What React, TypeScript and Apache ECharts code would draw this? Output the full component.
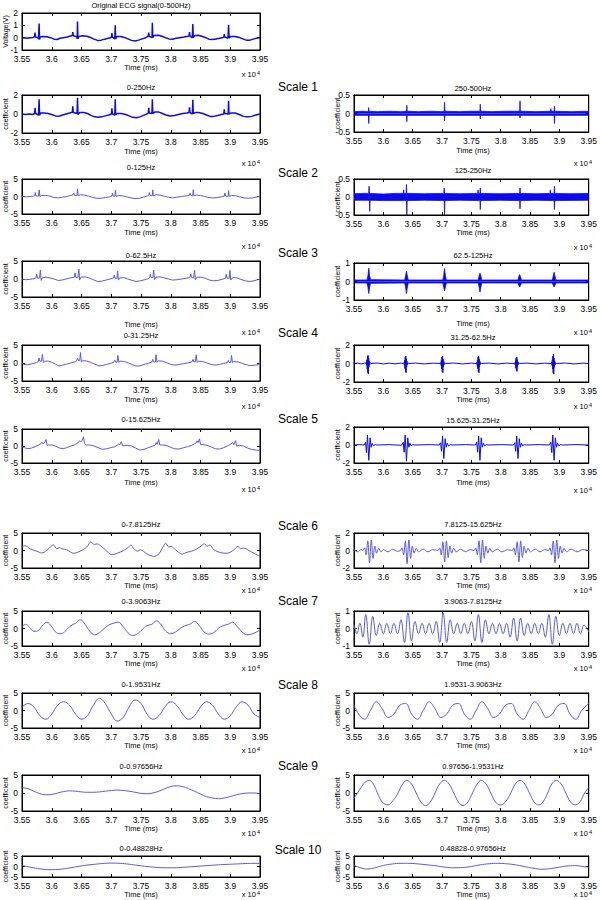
import React, { useEffect, useRef } from "react";
import * as echarts from "echarts";

type P = [number, number][];

// ---------- DATA (time in ms, value) ----------
const originalECG: P = [[35500,-0.05],[35540,0],[35590,-0.05],[35640,0],[35690,0.02],[35712,0.1],[35719,0.42],[35727,0.05],[35770,0],[35778,-0.12],[35787,1.15],[35795,-0.15],[35805,0.05],[35850,0.1],[35920,0.08],[35980,0],[36040,-0.12],[36090,-0.15],[36140,-0.05],[36200,0],[36260,0.05],[36330,0.15],[36347,0.2],[36354,0.45],[36362,0.15],[36420,0.08],[36427,-0.1],[36433,1.3],[36440,-0.08],[36455,0.1],[36520,0.15],[36590,0.12],[36650,0.02],[36710,-0.12],[36770,-0.22],[36830,-0.2],[36890,-0.12],[36950,-0.05],[36990,0],[37004,0.05],[37011,0.38],[37019,0.05],[37060,-0.1],[37067,1.0],[37074,-0.1],[37095,0.1],[37160,0.1],[37220,0.02],[37280,-0.1],[37340,-0.22],[37400,-0.27],[37460,-0.2],[37520,-0.1],[37580,0],[37622,0.12],[37630,0.42],[37638,0.1],[37685,0],[37691,1.2],[37698,0],[37720,0.18],[37790,0.2],[37850,0.12],[37910,0],[37970,-0.1],[38030,-0.12],[38090,-0.05],[38150,0],[38220,0.05],[38290,0.12],[38308,0.15],[38315,0.45],[38323,0.12],[38362,0],[38371,1.1],[38378,0],[38400,0.15],[38460,0.2],[38520,0.12],[38580,0.02],[38640,-0.12],[38700,-0.15],[38760,-0.1],[38820,-0.05],[38880,0.02],[38892,0.05],[38899,0.28],[38907,0.05],[38962,-0.05],[38972,1.05],[38980,-0.02],[39010,0.1],[39080,0.1],[39150,0.02],[39210,-0.1],[39270,-0.2],[39330,-0.2],[39400,-0.1],[39460,-0.02],[39500,0]];

const a1: P = [[35500,0],[35560,-0.05],[35620,0],[35680,-0.05],[35712,0.05],[35719,0.65],[35727,0.05],[35778,-0.1],[35787,1.55],[35795,-0.15],[35810,0.1],[35870,0.1],[35940,0.05],[36000,-0.05],[36060,-0.2],[36120,-0.25],[36180,-0.1],[36240,0],[36300,0.1],[36346,0.2],[36354,0.8],[36362,0.15],[36426,0.05],[36433,1.7],[36440,-0.05],[36470,0.15],[36540,0.15],[36600,0.05],[36660,-0.15],[36720,-0.3],[36780,-0.35],[36840,-0.3],[36900,-0.2],[36960,-0.1],[37003,0],[37011,0.6],[37019,0],[37060,-0.1],[37067,1.55],[37074,-0.1],[37100,0.05],[37170,0.05],[37240,-0.05],[37300,-0.2],[37360,-0.35],[37420,-0.4],[37480,-0.3],[37540,-0.15],[37600,0],[37622,0.1],[37630,0.65],[37638,0.1],[37684,0.05],[37691,1.55],[37698,0.05],[37730,0.2],[37800,0.2],[37860,0.05],[37920,-0.1],[37990,-0.2],[38060,-0.15],[38130,-0.05],[38200,0.05],[38270,0.1],[38307,0.15],[38315,0.7],[38323,0.15],[38364,0],[38371,1.5],[38378,0.05],[38410,0.15],[38470,0.15],[38540,0.05],[38600,-0.1],[38660,-0.25],[38720,-0.25],[38790,-0.15],[38850,-0.05],[38891,0],[38899,0.5],[38907,0.05],[38965,0],[38972,1.4],[38979,0],[39010,0.1],[39080,0.1],[39150,-0.05],[39220,-0.25],[39290,-0.3],[39360,-0.25],[39430,-0.1],[39500,0]];

const a2: P = [[35500,0],[35560,-0.1],[35630,0],[35690,0.1],[35713,0.2],[35722,1.1],[35732,0.2],[35775,0.1],[35790,1.9],[35800,0],[35830,0.3],[35900,0.3],[35970,0.1],[36040,-0.3],[36110,-0.4],[36180,-0.2],[36250,0],[36320,0.3],[36350,0.4],[36370,1.0],[36385,0.3],[36425,0.3],[36433,2.1],[36445,0.2],[36480,0.5],[36550,0.4],[36620,0.1],[36690,-0.3],[36760,-0.5],[36830,-0.5],[36900,-0.3],[36970,-0.1],[37010,0.1],[37020,1.0],[37032,0.1],[37060,0],[37070,1.8],[37082,0],[37120,0.3],[37190,0.2],[37260,-0.1],[37330,-0.4],[37400,-0.6],[37470,-0.5],[37540,-0.2],[37600,0.1],[37630,0.3],[37640,1.1],[37652,0.3],[37690,0.2],[37697,1.9],[37708,0.2],[37750,0.5],[37820,0.4],[37890,0.1],[37960,-0.2],[38030,-0.4],[38100,-0.2],[38180,0],[38260,0.2],[38310,0.3],[38325,1.0],[38337,0.3],[38370,0.2],[38378,1.9],[38390,0.2],[38430,0.4],[38500,0.3],[38570,0],[38640,-0.3],[38710,-0.4],[38780,-0.3],[38850,-0.1],[38900,0.1],[38910,1.0],[38922,0.1],[38965,0],[38972,1.7],[38984,0],[39020,0.3],[39090,0.2],[39160,-0.1],[39230,-0.4],[39300,-0.5],[39380,-0.4],[39450,-0.1],[39500,0]];

const a3: P = [[35500,0],[35560,-0.2],[35630,-0.1],[35700,0.1],[35735,0.3],[35747,1.4],[35760,0.2],[35795,0.3],[35809,2.5],[35822,-0.4],[35840,0.3],[35900,0.5],[35970,0.3],[36040,0],[36110,-0.4],[36170,-0.3],[36240,0],[36310,0.3],[36380,0.5],[36393,1.7],[36405,0.4],[36440,0.4],[36455,2.8],[36468,-0.3],[36490,0.5],[36560,0.6],[36630,0.3],[36700,-0.2],[36770,-0.7],[36840,-0.6],[36910,-0.3],[36980,0],[37038,0.3],[37051,1.1],[37063,0.2],[37095,0.2],[37107,2.2],[37120,-0.3],[37140,0.3],[37210,0.4],[37280,0],[37350,-0.4],[37420,-0.7],[37490,-0.5],[37560,-0.2],[37620,0.1],[37645,0.3],[37657,1.3],[37670,0.4],[37700,0.4],[37713,2.5],[37726,-0.2],[37750,0.5],[37820,0.6],[37890,0.3],[37960,0],[38030,-0.3],[38100,-0.2],[38180,0],[38260,0.2],[38320,0.4],[38337,1.4],[38350,0.4],[38385,0.3],[38400,2.5],[38413,-0.2],[38440,0.5],[38510,0.5],[38580,0.2],[38650,-0.3],[38720,-0.5],[38790,-0.4],[38860,-0.1],[38920,0.2],[38933,1.3],[38945,0.2],[38982,0.2],[38995,2.4],[39008,-0.3],[39040,0.4],[39110,0.3],[39180,-0.1],[39250,-0.5],[39320,-0.7],[39400,-0.5],[39460,-0.2],[39500,0]];

const a4: P = [[35500,0],[35530,-0.4],[35600,-0.5],[35670,-0.2],[35740,0.1],[35775,0.4],[35787,1.4],[35800,0.5],[35830,0.5],[35843,2.4],[35858,0.2],[35880,0.5],[35940,0.5],[36000,0.2],[36060,-0.3],[36120,-0.8],[36180,-0.6],[36250,-0.3],[36320,0],[36400,0.4],[36420,0.6],[36433,1.4],[36447,0.7],[36470,0.7],[36483,2.9],[36497,0.3],[36520,0.6],[36580,0.6],[36650,0.2],[36720,-0.3],[36790,-0.8],[36850,-0.7],[36920,-0.4],[36990,-0.1],[37040,0.2],[37062,0.75],[37075,0.2],[37098,0.2],[37112,2.1],[37127,0.2],[37150,0.5],[37220,0.4],[37290,0],[37360,-0.5],[37430,-0.9],[37500,-0.7],[37570,-0.3],[37640,0],[37685,0.3],[37697,1.0],[37710,0.3],[37740,0.3],[37753,2.3],[37768,0.2],[37790,0.6],[37860,0.5],[37930,0.1],[38000,-0.4],[38070,-0.6],[38140,-0.4],[38210,-0.2],[38280,0],[38350,0.2],[38376,1.0],[38390,0.3],[38413,0.3],[38427,2.3],[38442,0.2],[38470,0.5],[38540,0.4],[38610,0],[38680,-0.4],[38750,-0.6],[38820,-0.4],[38890,-0.1],[38955,0.1],[38966,0.7],[38980,0.1],[39008,0.1],[39022,2.1],[39037,0.1],[39060,0.4],[39130,0.3],[39200,-0.1],[39270,-0.5],[39340,-0.7],[39420,-0.6],[39470,-0.5],[39500,0]];

const a5: P = [[35500,-0.2],[35540,-0.5],[35600,-0.8],[35660,-0.6],[35720,-0.2],[35780,0.3],[35820,0.7],[35831,1.1],[35860,0.6],[35885,1.2],[35904,1.9],[35920,0.2],[35950,0.3],[36010,0.3],[36070,-0.1],[36130,-0.6],[36190,-0.8],[36250,-0.5],[36310,-0.1],[36380,0.3],[36440,0.9],[36466,1.5],[36490,1.2],[36515,1.8],[36534,2.7],[36550,0.7],[36580,0.3],[36640,0.3],[36710,0],[36780,-0.5],[36850,-1.0],[36920,-0.8],[36990,-0.5],[37060,-0.2],[37100,0.2],[37124,0.6],[37140,0.3],[37169,1.3],[37190,0],[37220,0.1],[37280,0.2],[37340,0],[37410,-0.6],[37480,-1.2],[37550,-1.0],[37620,-0.5],[37690,-0.1],[37740,0.3],[37753,1.0],[37770,0.5],[37798,1.9],[37815,0.3],[37850,0.3],[37920,0.2],[37990,-0.3],[38060,-0.8],[38130,-0.9],[38200,-0.6],[38280,-0.2],[38350,0.2],[38420,0.8],[38444,1.5],[38460,1.0],[38483,2.1],[38500,0.4],[38540,0.4],[38610,0.2],[38680,-0.3],[38750,-0.8],[38820,-0.9],[38890,-0.5],[38950,0],[38990,0.4],[39045,1.0],[39060,0.4],[39090,1.6],[39105,0],[39150,0.2],[39220,0],[39290,-0.6],[39360,-1.0],[39430,-1.2],[39480,-1.3],[39500,-0.9]];

const a6: P = [[35500,1.0],[35551,1.4],[35635,0.5],[35747,-0.2],[35831,-0.7],[35916,0],[36000,1.4],[36028,1.6],[36084,0.5],[36129,0.8],[36169,0.5],[36253,0.2],[36365,-0.8],[36478,-0.2],[36590,1.0],[36657,2.5],[36713,1.7],[36758,1.9],[36815,1.4],[36899,0.2],[37011,-1.2],[37096,-0.8],[37208,0],[37292,1.0],[37331,1.6],[37376,0.5],[37444,-0.2],[37489,0.2],[37601,-1.0],[37713,-1.7],[37798,-1.0],[37882,1.4],[37916,2.1],[37966,1.0],[38006,1.2],[38079,0.2],[38191,-1.0],[38275,-0.5],[38388,0],[38489,1.0],[38567,1.9],[38612,1.2],[38657,1.6],[38725,0.2],[38837,-0.6],[38949,-0.8],[39062,0.2],[39129,1.2],[39174,0.5],[39219,0.7],[39315,0],[39399,-0.8],[39500,-1.7]];

const a7: P = [[35500,0.5],[35560,1.2],[35620,0.5],[35700,-0.8],[35780,-0.5],[35850,1.0],[35920,1.8],[36000,0.5],[36080,-1.2],[36160,-1.5],[36240,-0.5],[36320,0.8],[36400,1.5],[36480,2.5],[36560,1.2],[36640,-0.8],[36720,-1.8],[36800,-1.2],[36880,0],[36960,1],[37040,1.5],[37120,1.8],[37200,0.5],[37280,-1.2],[37360,-2],[37440,-1.5],[37520,-0.3],[37600,0.8],[37680,1.2],[37760,2.2],[37840,1],[37920,-0.8],[38000,-1.5],[38080,-1],[38160,0],[38240,0.8],[38320,1.2],[38400,2],[38480,0.8],[38560,-1],[38640,-1.6],[38720,-1.2],[38800,0],[38880,0.8],[38960,1.2],[39040,1.8],[39120,0.5],[39200,-1],[39280,-1.8],[39360,-1.6],[39440,-1],[39500,-0.5]];

const a8: P = [[35500,1],[35600,2],[35700,1],[35800,-1.5],[35900,-2.5],[36000,-1],[36100,1.5],[36200,2.5],[36300,1.5],[36400,-1],[36500,-2.5],[36600,-1.5],[36700,1.5],[36800,3.5],[36900,2],[37000,-1],[37100,-3],[37200,-2],[37300,1],[37400,3],[37500,2],[37600,-1],[37700,-2.5],[37800,-1.5],[37900,1],[38000,2.5],[38100,1.5],[38200,-1],[38300,-2.5],[38400,-1.5],[38500,1],[38600,2.5],[38700,1.5],[38800,-1],[38900,-2.5],[39000,-1.5],[39100,1],[39200,2.5],[39300,1.5],[39400,-1],[39500,-2]];

const a9: P = [[35500,1.5],[35600,1.2],[35700,0.5],[35800,-0.2],[35900,-0.5],[36000,-0.4],[36100,0],[36200,0.4],[36300,0.6],[36400,0.5],[36500,0.3],[36600,0.2],[36700,0.2],[36800,0.3],[36900,0.5],[37000,0.7],[37100,0.8],[37200,0.7],[37300,0.5],[37400,0.2],[37500,-0.1],[37600,-0.2],[37700,0],[37800,0.5],[37900,1.2],[38000,1.8],[38100,2.0],[38200,1.8],[38300,1.2],[38400,0.5],[38500,-0.3],[38600,-1.0],[38700,-1.4],[38800,-1.6],[38900,-1.4],[39000,-1.0],[39100,-0.5],[39200,-0.2],[39300,0],[39400,0],[39500,-0.2]];

const a10: P = [[35500,0.5],[35650,-0.4],[35800,-1.1],[35950,-1.5],[36100,-1.4],[36250,-0.9],[36400,-0.2],[36550,0.5],[36700,1.0],[36850,1.4],[37000,1.6],[37150,1.5],[37300,1.1],[37450,0.5],[37600,0],[37750,-0.4],[37900,-0.6],[38050,-0.6],[38200,-0.4],[38350,-0.1],[38500,0.2],[38650,0.5],[38800,0.8],[38950,1.0],[39100,1.2],[39250,1.4],[39400,1.5],[39500,1.5]];

// right column (detail bands)
const d1Upper: P = [[35500,0.05],[35650,0.06],[35744,0.05],[35750,0.16],[35756,0.06],[35900,0.05],[36100,0.06],[36300,0.05],[36394,0.06],[36400,0.22],[36406,0.06],[36600,0.05],[36800,0.06],[37000,0.05],[37037,0.06],[37043,0.3],[37049,0.06],[37300,0.05],[37500,0.06],[37646,0.06],[37652,0.25],[37658,0.06],[37850,0.05],[38100,0.06],[38323,0.06],[38329,0.34],[38335,0.06],[38600,0.05],[38849,0.06],[38855,0.13],[38861,0.06],[38910,0.06],[38916,0.2],[38922,0.06],[39200,0.05],[39500,0.06]];
const d1Lower: P = [[35500,-0.05],[35746,-0.05],[35752,-0.27],[35758,-0.05],[36394,-0.05],[36400,-0.22],[36406,-0.05],[37037,-0.05],[37043,-0.2],[37049,-0.05],[37646,-0.05],[37652,-0.15],[37658,-0.05],[38323,-0.05],[38329,-0.12],[38335,-0.05],[38910,-0.05],[38916,-0.27],[38922,-0.05],[39500,-0.05]];

const d2Upper: P = [[35500,0.09],[35650,0.1],[35751,0.1],[35757,0.3],[35763,0.1],[36000,0.08],[36200,0.1],[36340,0.1],[36346,0.2],[36352,0.1],[36388,0.1],[36394,0.35],[36400,0.1],[36700,0.09],[37031,0.1],[37037,0.25],[37043,0.1],[37300,0.09],[37608,0.1],[37614,0.2],[37620,0.1],[37646,0.1],[37652,0.25],[37658,0.1],[38000,0.09],[38323,0.1],[38329,0.25],[38335,0.1],[38600,0.09],[38840,0.1],[38846,0.2],[38852,0.1],[38910,0.1],[38916,0.3],[38922,0.1],[39200,0.09],[39500,0.1]];
const d2Lower: P = [[35500,-0.09],[35762,-0.09],[35768,-0.4],[35774,-0.09],[36000,-0.1],[36394,-0.1],[36400,-0.5],[36406,-0.1],[36700,-0.09],[37037,-0.1],[37043,-0.5],[37049,-0.1],[37300,-0.09],[37646,-0.1],[37652,-0.35],[37658,-0.1],[38000,-0.09],[38323,-0.1],[38329,-0.33],[38335,-0.1],[38600,-0.09],[38910,-0.1],[38916,-0.35],[38922,-0.1],[39500,-0.09]];

const d3Upper: P = [[35500,0.08],[35722,0.08],[35737,0.3],[35752,0.72],[35767,0.3],[35782,0.1],[36364,0.08],[36379,0.3],[36394,0.55],[36409,0.3],[36424,0.08],[37013,0.08],[37028,0.3],[37043,0.7],[37058,0.3],[37073,0.08],[37617,0.08],[37632,0.3],[37647,0.45],[37662,0.3],[37677,0.08],[38293,0.08],[38308,0.25],[38323,0.38],[38338,0.25],[38353,0.08],[38880,0.08],[38895,0.3],[38910,0.5],[38925,0.3],[38940,0.08],[39500,0.08]];
const d3Lower: P = [[35500,-0.08],[35722,-0.08],[35737,-0.3],[35752,-0.65],[35767,-0.3],[35782,-0.1],[36364,-0.08],[36379,-0.3],[36394,-0.65],[36409,-0.3],[36424,-0.08],[37013,-0.08],[37028,-0.3],[37043,-0.5],[37058,-0.3],[37073,-0.08],[37617,-0.08],[37632,-0.3],[37647,-0.57],[37662,-0.3],[37677,-0.08],[38293,-0.08],[38308,-0.2],[38323,-0.3],[38338,-0.2],[38353,-0.08],[38880,-0.08],[38895,-0.2],[38910,-0.3],[38925,-0.2],[38940,-0.08],[39500,-0.08]];

const d4: P = [[35500,0],[35560,0.05],[35620,-0.05],[35680,0.04],[35700,0],[35710,0.15],[35715,-0.2],[35720,0.4],[35725,-0.6],[35730,0.8],[35735,-1.0],[35740,0.9],[35745,-1.15],[35750,0.6],[35755,-0.4],[35760,0.3],[35767,-0.15],[35775,0.1],[35790,0],[35900,0.05],[36000,-0.05],[36100,0.04],[36200,-0.04],[36300,0.05],[36343,0],[36353,0.12],[36358,-0.2],[36363,0.35],[36368,-0.55],[36373,0.7],[36378,-0.9],[36383,0.8],[36388,-1.0],[36393,0.5],[36398,-0.35],[36403,0.25],[36410,-0.12],[36418,0.08],[36433,0],[36550,0.05],[36700,-0.05],[36850,0.04],[36969,0],[36979,0.12],[36984,-0.2],[36989,0.35],[36994,-0.55],[36999,0.7],[37004,-0.9],[37009,0.8],[37014,-1.0],[37019,0.5],[37024,-0.35],[37029,0.25],[37036,-0.12],[37044,0.08],[37059,0],[37200,0.05],[37350,-0.05],[37500,0.04],[37584,0],[37594,0.12],[37599,-0.2],[37604,0.35],[37609,-0.55],[37614,0.7],[37619,-0.9],[37624,0.8],[37629,-1.0],[37634,0.5],[37639,-0.35],[37644,0.25],[37651,-0.12],[37659,0.08],[37674,0],[37800,0.05],[37950,-0.05],[38100,0.04],[38233,0],[38243,0.1],[38248,-0.18],[38253,0.3],[38258,-0.5],[38263,0.6],[38268,-0.8],[38273,0.7],[38278,-0.85],[38283,0.45],[38288,-0.3],[38293,0.2],[38300,-0.1],[38308,0.06],[38323,0],[38450,0.05],[38600,-0.05],[38750,0.04],[38859,0],[38869,0.15],[38874,-0.2],[38879,0.4],[38884,-0.6],[38889,0.8],[38894,-1.0],[38899,1.0],[38904,-1.15],[38909,0.6],[38914,-0.4],[38919,0.3],[38926,-0.15],[38934,0.1],[38949,0],[39100,0.05],[39250,-0.05],[39400,0.04],[39500,0]];

const d5: P = [[35500,0],[35600,0.05],[35672,0],[35697,0.3],[35712,-0.85],[35730,1.1],[35752,-1.7],[35774,0.8],[35792,-0.25],[35810,0.2],[35832,-0.1],[35862,0.05],[35892,0],[36100,0.04],[36300,-0.03],[36314,0],[36339,0.3],[36354,-0.8],[36372,1.1],[36394,-1.8],[36416,0.8],[36434,-0.25],[36452,0.2],[36474,-0.1],[36504,0.05],[36534,0],[36800,0.04],[36951,0],[36976,0.25],[36991,-0.7],[37009,1.0],[37031,-1.5],[37053,0.7],[37071,-0.25],[37089,0.2],[37111,-0.1],[37141,0.05],[37171,0],[37400,0.04],[37566,0],[37591,0.3],[37606,-0.8],[37624,1.0],[37646,-1.7],[37668,0.8],[37686,-0.25],[37704,0.2],[37726,-0.1],[37756,0.05],[37786,0],[38000,0.04],[38215,0],[38240,0.25],[38255,-0.7],[38273,1.0],[38295,-1.5],[38317,0.7],[38335,-0.25],[38353,0.2],[38375,-0.1],[38405,0.05],[38435,0],[38650,0.04],[38830,0],[38855,0.3],[38870,-0.85],[38888,1.1],[38910,-1.7],[38932,0.8],[38950,-0.25],[38968,0.2],[38990,-0.1],[39020,0.05],[39050,0],[39300,0.04],[39500,0]];

const d6: P = [[35500,0.1],[35560,-0.15],[35620,0.1],[35650,0],[35680,0.3],[35705,-0.5],[35735,1.1],[35765,-1.4],[35795,1.2],[35825,-0.9],[35855,0.5],[35885,-0.3],[35920,0.25],[35960,-0.15],[36000,0.1],[36080,-0.15],[36160,0.15],[36240,-0.1],[36290,0],[36320,0.3],[36345,-0.5],[36375,1.1],[36405,-1.5],[36435,1.2],[36465,-0.9],[36495,0.5],[36525,-0.3],[36560,0.25],[36600,-0.15],[36680,0.15],[36760,-0.15],[36840,0.1],[36930,0],[36960,0.3],[36985,-0.5],[37015,1.0],[37045,-1.3],[37075,1.1],[37105,-0.8],[37135,0.5],[37165,-0.3],[37200,0.25],[37240,-0.15],[37320,0.15],[37400,-0.15],[37480,0.1],[37545,0],[37575,0.3],[37600,-0.5],[37630,1.1],[37660,-1.4],[37690,1.2],[37720,-0.9],[37750,0.5],[37780,-0.3],[37815,0.25],[37855,-0.15],[37940,0.15],[38020,-0.15],[38120,0.1],[38195,0],[38225,0.3],[38250,-0.5],[38280,1.0],[38310,-1.3],[38340,1.1],[38370,-0.8],[38400,0.5],[38430,-0.3],[38465,0.25],[38505,-0.15],[38590,0.15],[38670,-0.15],[38750,0.1],[38810,0],[38840,0.3],[38865,-0.5],[38895,1.1],[38925,-1.4],[38955,1.2],[38985,-0.9],[39015,0.5],[39045,-0.3],[39080,0.25],[39120,-0.15],[39200,0.15],[39300,-0.15],[39400,0.1],[39500,0]];

const d7: P = [[35500,0.2],[35550,-0.3],[35600,0.3],[35650,-0.5],[35700,0.8],[35760,-0.9],[35820,0.7],[35880,-0.4],[35940,0.3],[36000,-0.3],[36060,0.3],[36120,-0.3],[36180,0.3],[36240,-0.3],[36300,0.5],[36360,-0.8],[36420,0.9],[36480,-0.7],[36540,0.4],[36600,-0.3],[36660,0.3],[36720,-0.3],[36780,0.3],[36840,-0.3],[36900,0.4],[36960,-0.8],[37020,0.9],[37080,-0.8],[37140,0.5],[37200,-0.3],[37260,0.3],[37320,-0.3],[37380,0.3],[37440,-0.3],[37500,0.4],[37560,-0.7],[37620,0.8],[37680,-0.8],[37740,0.5],[37800,-0.3],[37860,0.3],[37920,-0.3],[37980,0.3],[38040,-0.3],[38100,0.3],[38160,-0.5],[38220,0.6],[38280,-0.7],[38340,0.6],[38400,-0.4],[38460,0.3],[38520,-0.3],[38580,0.3],[38640,-0.3],[38700,0.3],[38760,-0.5],[38820,0.8],[38880,-0.9],[38940,0.7],[39000,-0.4],[39060,0.3],[39120,-0.3],[39180,0.3],[39240,-0.3],[39300,0.3],[39360,-0.3],[39420,0.2],[39500,-0.2]];

const d8: P = [[35500,1.5],[35580,-1],[35680,-2.5],[35780,0],[35880,2.5],[35980,0.5],[36080,-2],[36180,-1],[36280,1.5],[36380,2],[36480,-1],[36580,-2.5],[36680,0],[36780,2.5],[36880,0.5],[36980,-2],[37080,-1],[37180,1.5],[37280,2],[37380,-1],[37480,-2.5],[37580,0],[37680,2.5],[37780,0.5],[37880,-2],[37980,-1],[38080,1.5],[38180,2],[38280,-1],[38380,-2.5],[38480,0],[38580,2.5],[38680,0.5],[38780,-2],[38880,-1],[38980,1.5],[39080,2],[39180,-1],[39280,-2.5],[39380,0],[39500,2]];

const d9: P = [[35500,-1.5],[35560,0],[35620,1.5],[35690,3],[35760,3.5],[35830,2.5],[35900,0],[35980,-2.5],[36080,-3.3],[36170,-2],[36250,0],[36330,2.5],[36400,3.5],[36480,2.5],[36560,0],[36640,-2.5],[36720,-3.5],[36800,-2.5],[36880,0],[36960,2.5],[37040,3.5],[37120,2.5],[37200,0],[37280,-2.5],[37360,-3.5],[37440,-2.5],[37520,0],[37600,2.5],[37670,3.5],[37750,2.5],[37830,0],[37910,-2.5],[37990,-3.3],[38080,-2.5],[38170,0],[38250,2.5],[38330,3.5],[38410,2.5],[38490,0],[38570,-2.5],[38650,-3.3],[38720,-2.5],[38800,0],[38870,2.5],[38950,3.5],[39030,2.5],[39110,0],[39190,-2.5],[39270,-3.3],[39350,-2.5],[39430,0],[39500,1.5]];

const d10: P = [[35500,0.5],[35600,-0.5],[35700,-1.2],[35800,-1.0],[35900,-0.3],[36000,0.5],[36150,1.2],[36300,1.5],[36450,1.5],[36600,1.2],[36750,0.8],[36900,0.3],[37050,-0.3],[37200,-0.6],[37350,-0.5],[37500,0],[37650,0.8],[37800,1.3],[37950,1.5],[38100,1.3],[38250,0.8],[38400,0],[38550,-0.8],[38700,-1.3],[38850,-1.0],[39000,-0.3],[39150,0.3],[39300,0.4],[39400,0],[39500,-0.3]];

// x-axis tick values (ms); labels shown in units of 10^4 ms
const xMin = 35500, xMax = 39500, xStep = 500;

// ---------- LAYOUT ----------
type Lay = { top: number; bottom: number; titleY: number; timeY: number; expY: number };
const LX = 22, RX = 354, PW = 238;

const FONT = "'Liberation Sans Narrow', 'Liberation Sans', Arial, sans-serif";
const BLUE = "#0a0aee";
const LBLUE = "#5858e8";

interface Panel {
  title: string;
  col: 0 | 1;
  lay: Lay;
  y: [number, number, number];
  yName: string;
  line?: P;
  width?: number;
  color?: string;
  smooth?: number;
  band?: [P, P];
}

const panels: Panel[] = [
  { title: "Original ECG signal(0-500Hz)", col: 0, lay: { top: 13, bottom: 50, titleY: 5, timeY: 67, expY: 74 }, y: [-1, 2, 1], yName: "Voltage(V)", line: originalECG, width: 1.5, color: BLUE },
  { title: "0-250Hz", col: 0, lay: { top: 95, bottom: 133, titleY: 87, timeY: 151, expY: 163 }, y: [-2, 2, 2], yName: "coefficient", line: a1, width: 1.5, color: BLUE },
  { title: "250-500Hz", col: 1, lay: { top: 95, bottom: 132, titleY: 88, timeY: 150, expY: 163 }, y: [-0.5, 0.5, 0.5], yName: "coefficient", band: [d1Upper, d1Lower] },
  { title: "0-125Hz", col: 0, lay: { top: 179, bottom: 214, titleY: 167, timeY: 232, expY: 246 }, y: [-5, 5, 5], yName: "coefficient", line: a2, width: 1, color: LBLUE },
  { title: "125-250Hz", col: 1, lay: { top: 179, bottom: 215, titleY: 170, timeY: 232, expY: 247 }, y: [-0.5, 0.5, 0.5], yName: "coefficient", band: [d2Upper, d2Lower] },
  { title: "0-62.5Hz", col: 0, lay: { top: 261, bottom: 297, titleY: 255, timeY: 324, expY: 332 }, y: [-5, 5, 5], yName: "coefficient", line: a3, width: 1, color: LBLUE },
  { title: "62.5-125Hz", col: 1, lay: { top: 263, bottom: 300, titleY: 255, timeY: 323, expY: 332 }, y: [-1, 1, 1], yName: "coefficient", band: [d3Upper, d3Lower] },
  { title: "0-31.25Hz", col: 0, lay: { top: 345, bottom: 381, titleY: 335, timeY: 399, expY: 406 }, y: [-5, 5, 5], yName: "coefficient", line: a4, width: 1, color: LBLUE },
  { title: "31.25-62.5Hz", col: 1, lay: { top: 345, bottom: 382, titleY: 337, timeY: 399, expY: 406 }, y: [-2, 2, 2], yName: "coefficient", line: d4, width: 1, color: BLUE },
  { title: "0-15.625Hz", col: 0, lay: { top: 429, bottom: 463, titleY: 419, timeY: 482, expY: 489 }, y: [-5, 5, 5], yName: "coefficient", line: a5, width: 1, color: LBLUE },
  { title: "15.625-31.25Hz", col: 1, lay: { top: 427, bottom: 463, titleY: 420, timeY: 482, expY: 490 }, y: [-2, 2, 2], yName: "coefficient", line: d5, width: 1, color: BLUE },
  { title: "0-7.8125Hz", col: 0, lay: { top: 533, bottom: 568, titleY: 524, timeY: 585, expY: 590 }, y: [-5, 5, 5], yName: "coefficient", line: a6, width: 1, color: LBLUE, smooth: 0.3 },
  { title: "7.8125-15.625Hz", col: 1, lay: { top: 533, bottom: 568, titleY: 524, timeY: 585, expY: 590 }, y: [-2, 2, 2], yName: "coefficient", line: d6, width: 1, color: LBLUE, smooth: 0.3 },
  { title: "0-3.9063Hz", col: 0, lay: { top: 611, bottom: 646, titleY: 601, timeY: 663, expY: 668 }, y: [-5, 5, 5], yName: "coefficient", line: a7, width: 1, color: LBLUE, smooth: 0.4 },
  { title: "3.9063-7.8125Hz", col: 1, lay: { top: 611, bottom: 646, titleY: 601, timeY: 663, expY: 668 }, y: [-1, 1, 1], yName: "coefficient", line: d7, width: 1, color: LBLUE, smooth: 0.4 },
  { title: "0-1.9531Hz", col: 0, lay: { top: 693, bottom: 728, titleY: 684, timeY: 745, expY: 750 }, y: [-5, 5, 5], yName: "coefficient", line: a8, width: 1, color: LBLUE, smooth: 0.4 },
  { title: "1.9531-3.9063Hz", col: 1, lay: { top: 693, bottom: 728, titleY: 684, timeY: 745, expY: 750 }, y: [-5, 5, 5], yName: "coefficient", line: d8, width: 1, color: LBLUE, smooth: 0.4 },
  { title: "0-0.97656Hz", col: 0, lay: { top: 775, bottom: 811, titleY: 766, timeY: 828, expY: 833 }, y: [-5, 5, 5], yName: "coefficient", line: a9, width: 1, color: LBLUE, smooth: 0.4 },
  { title: "0.97656-1.9531Hz", col: 1, lay: { top: 775, bottom: 811, titleY: 766, timeY: 828, expY: 833 }, y: [-5, 5, 5], yName: "coefficient", line: d9, width: 1, color: LBLUE, smooth: 0.4 },
  { title: "0-0.48828Hz", col: 0, lay: { top: 856, bottom: 877, titleY: 848, timeY: 894, expY: 894 }, y: [-5, 5, 5], yName: "coefficient", line: a10, width: 1, color: LBLUE, smooth: 0.4 },
  { title: "0.48828-0.97656Hz", col: 1, lay: { top: 856, bottom: 877, titleY: 848, timeY: 894, expY: 894 }, y: [-5, 5, 5], yName: "coefficient", line: d10, width: 1, color: LBLUE, smooth: 0.4 },
];

const scaleLabels = ["Scale 1", "Scale 2", "Scale 3", "Scale 4", "Scale 5", "Scale 6", "Scale 7", "Scale 8", "Scale 9", "Scale 10"];
const scaleY = [87, 173, 253, 333, 419, 526, 601, 685, 766, 850];

function buildOption() {
  const grid: any[] = [], xAxis: any[] = [], yAxis: any[] = [], series: any[] = [], graphic: any[] = [];
  const axisLine = { onZero: false, lineStyle: { color: "#000", width: 1 } };
  const tick = { inside: true, length: 3, lineStyle: { color: "#000", width: 1 } };
  const txt = (x: number, y: number, text: string, size: number, align = "center", extra: any = {}) => ({
    type: "text", x, y, silent: true, ...extra,
    style: { text, fontSize: size, lineHeight: size, fontFamily: FONT, fill: "#000", align, verticalAlign: "middle", textAlign: align, textVerticalAlign: "middle" },
  });
  panels.forEach((p, i) => {
    const left = p.col === 0 ? LX : RX;
    const L = p.lay;
    grid.push({ left, top: L.top, width: PW, height: L.bottom - L.top, show: true, borderColor: "#000", borderWidth: 1, containLabel: false });
    const xBase = { gridIndex: i, type: "value", min: xMin, max: xMax, interval: xStep, splitLine: { show: false }, axisLine, axisTick: tick };
    xAxis.push({ ...xBase, position: "bottom", axisLabel: { fontSize: 8.5, lineHeight: 9, color: "#000", margin: 4, fontFamily: FONT, formatter: (v: number) => String(v / 10000) } });
    xAxis.push({ ...xBase, position: "top", axisLabel: { show: false } });
    const yBase = { gridIndex: i, type: "value", min: p.y[0], max: p.y[1], interval: p.y[2], splitLine: { show: false }, axisLine, axisTick: tick };
    yAxis.push({ ...yBase, position: "left", axisLabel: { fontSize: 8.5, lineHeight: 7, color: "#000", margin: 4, fontFamily: FONT } });
    yAxis.push({ ...yBase, position: "right", axisLabel: { show: false } });
    const common = { type: "line", xAxisIndex: 2 * i, yAxisIndex: 2 * i, symbol: "none", silent: true, animation: false, clip: true };
    if (p.line) {
      series.push({ ...common, data: p.line, smooth: p.smooth || false, lineStyle: { color: p.color, width: p.width } });
    }
    if (p.band) {
      p.band.forEach((b) => {
        series.push({ ...common, data: b, lineStyle: { color: BLUE, width: 0.8 }, areaStyle: { color: BLUE, opacity: 1 } });
      });
    }
    const cx = left + PW / 2;
    graphic.push(txt(cx, L.titleY, p.title, 7.5));
    graphic.push(txt(cx, L.timeY, "Time (ms)", 7.5));
    graphic.push({
      type: "text", x: left + PW, y: L.expY, silent: true,
      style: {
        text: "{a|x 10}{b|4}", fontFamily: FONT, fill: "#000", align: "right", verticalAlign: "middle", textAlign: "right", textVerticalAlign: "middle",
        rich: {
          a: { fontSize: 7.5, fontFamily: FONT, fill: "#000", lineHeight: 9, verticalAlign: "bottom" },
          b: { fontSize: 5.5, fontFamily: FONT, fill: "#000", lineHeight: 9, verticalAlign: "top", padding: [0, 0, 0, 1] },
        },
      },
    });
    graphic.push(txt(left - 17, (L.top + L.bottom) / 2, p.yName, 7, "center", { rotation: Math.PI / 2 }));
  });
  scaleLabels.forEach((s, i) => {
    graphic.push({
      type: "text", x: 298, y: scaleY[i], silent: true,
      style: { text: s, fontSize: 12, fontFamily: "'Liberation Sans', Arial, sans-serif", fill: "#000", align: "center", verticalAlign: "middle", textAlign: "center", textVerticalAlign: "middle" },
    });
  });
  return { animation: false, backgroundColor: "#fff", grid, xAxis, yAxis, series, graphic };
}

export default function App() {
  const ref = useRef<HTMLDivElement>(null);
  useEffect(() => {
    if (!ref.current) return;
    const chart = echarts.init(ref.current, undefined, { renderer: "svg" });
    chart.setOption(buildOption());
    return () => chart.dispose();
  }, []);
  return <div ref={ref} style={{ position: "absolute", left: 0, top: 0, width: 600, height: 900, background: "#fff" }} />;
}
